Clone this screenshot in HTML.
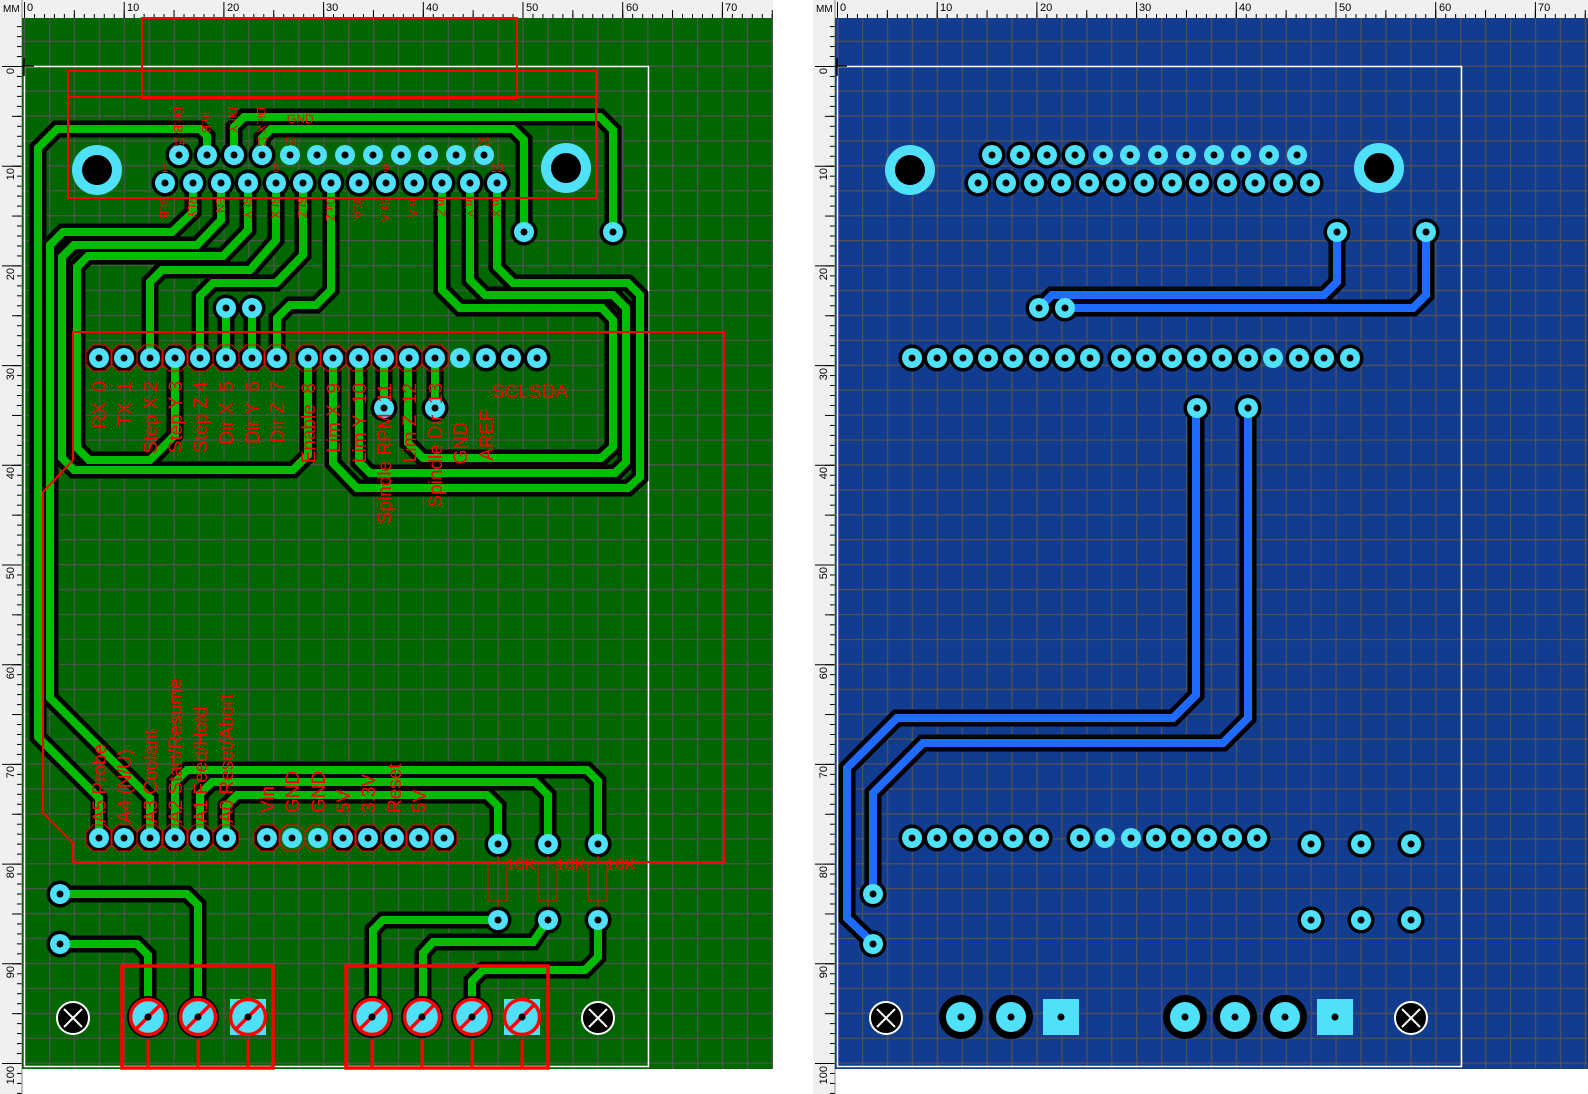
<!DOCTYPE html>
<html><head><meta charset="utf-8"><style>
html,body{margin:0;padding:0;background:#fff;}
svg{display:block;}
text{font-family:"Liberation Sans",sans-serif;}
</style></head><body>
<svg width="1588" height="1094" viewBox="0 0 1588 1094" xmlns="http://www.w3.org/2000/svg" xmlns:xlink="http://www.w3.org/1999/xlink">
<defs>
<pattern id="grid" x="24" y="15.7" width="24.925" height="24.925" patternUnits="userSpaceOnUse"><path d="M0.6,0 V24.925 M0,0.6 H24.925" stroke="#525252" stroke-width="1.3" fill="none"/></pattern>
<pattern id="tx1" x="24" y="0" width="9.97" height="18" patternUnits="userSpaceOnUse"><line x1="0.5" y1="14" x2="0.5" y2="18" stroke="#000"/></pattern>
<pattern id="tx5" x="24" y="0" width="49.85" height="18" patternUnits="userSpaceOnUse"><line x1="0.5" y1="10" x2="0.5" y2="18" stroke="#000"/></pattern>
<pattern id="ty1" x="0" y="66" width="22" height="9.97" patternUnits="userSpaceOnUse"><line x1="17" y1="0.5" x2="22" y2="0.5" stroke="#000"/></pattern>
<pattern id="ty5" x="0" y="66" width="22" height="49.85" patternUnits="userSpaceOnUse"><line x1="12" y1="0.5" x2="22" y2="0.5" stroke="#000"/></pattern>
<g id="rulers">
<rect x="0" y="0" width="775" height="18" fill="#f0f0f0"/>
<rect x="0" y="0" width="22" height="1094" fill="#f0f0f0"/>
<rect x="22" y="0" width="753" height="18" fill="url(#tx1)"/>
<rect x="22" y="0" width="753" height="18" fill="url(#tx5)"/>
<rect x="0" y="18" width="22" height="1076" fill="url(#ty1)"/>
<rect x="0" y="18" width="22" height="1076" fill="url(#ty5)"/>
<path d="M24.5,2V18 M124.2,2V18 M223.9,2V18 M323.6,2V18 M423.3,2V18 M523,2V18 M622.7,2V18 M722.4,2V18 M2,66.5H22 M2,166.2H22 M2,265.9H22 M2,365.6H22 M2,465.3H22 M2,565H22 M2,664.7H22 M2,764.4H22 M2,864.1H22 M2,963.8H22 M2,1063.5H22" stroke="#000" fill="none"/>
<line x1="22" y1="0" x2="22" y2="1094" stroke="#888"/>
</g>
<g id="rings" fill="#000">
<circle cx="179" cy="155" r="13.5"/><circle cx="207" cy="155" r="13.5"/><circle cx="234" cy="155" r="13.5"/><circle cx="262" cy="155" r="13.5"/>
<circle cx="165" cy="183" r="13.5"/><circle cx="193" cy="183" r="13.5"/><circle cx="221" cy="183" r="13.5"/><circle cx="248" cy="183" r="13.5"/><circle cx="276" cy="183" r="13.5"/><circle cx="303" cy="183" r="13.5"/><circle cx="331" cy="183" r="13.5"/><circle cx="359" cy="183" r="13.5"/><circle cx="386" cy="183" r="13.5"/><circle cx="414" cy="183" r="13.5"/><circle cx="442" cy="183" r="13.5"/><circle cx="470" cy="183" r="13.5"/><circle cx="497" cy="183" r="13.5"/>
<circle cx="524" cy="232" r="13.5"/><circle cx="613" cy="232" r="13.5"/><circle cx="226" cy="308" r="13.5"/><circle cx="252" cy="308" r="13.5"/>
<circle cx="99" cy="358" r="13.5"/><circle cx="124" cy="358" r="13.5"/><circle cx="150" cy="358" r="13.5"/><circle cx="175" cy="358" r="13.5"/><circle cx="200" cy="358" r="13.5"/><circle cx="226" cy="358" r="13.5"/><circle cx="252" cy="358" r="13.5"/><circle cx="277" cy="358" r="13.5"/>
<circle cx="308" cy="358" r="13.5"/><circle cx="333" cy="358" r="13.5"/><circle cx="359" cy="358" r="13.5"/><circle cx="384" cy="358" r="13.5"/><circle cx="409" cy="358" r="13.5"/><circle cx="435" cy="358" r="13.5"/><circle cx="486" cy="358" r="13.5"/><circle cx="511" cy="358" r="13.5"/><circle cx="537" cy="358" r="13.5"/>
<circle cx="384" cy="408" r="13.5"/><circle cx="435" cy="408" r="13.5"/>
<circle cx="99" cy="838" r="13.5"/><circle cx="124" cy="838" r="13.5"/><circle cx="150" cy="838" r="13.5"/><circle cx="175" cy="838" r="13.5"/><circle cx="200" cy="838" r="13.5"/><circle cx="226" cy="838" r="13.5"/><circle cx="267" cy="838" r="13.5"/><circle cx="343" cy="838" r="13.5"/><circle cx="368" cy="838" r="13.5"/><circle cx="394" cy="838" r="13.5"/><circle cx="419" cy="838" r="13.5"/><circle cx="444" cy="838" r="13.5"/>
<circle cx="498" cy="844" r="13.5"/><circle cx="548" cy="844" r="13.5"/><circle cx="598" cy="844" r="13.5"/><circle cx="498" cy="920" r="13.5"/><circle cx="548" cy="920" r="13.5"/><circle cx="598" cy="920" r="13.5"/>
<circle cx="60" cy="894" r="13.5"/><circle cx="60" cy="944" r="13.5"/>
</g>
<g id="cores">
<g fill="#4fe0fa">
<circle cx="179" cy="155" r="10"/><circle cx="207" cy="155" r="10"/><circle cx="234" cy="155" r="10"/><circle cx="262" cy="155" r="10"/><circle cx="290" cy="155" r="10"/><circle cx="317" cy="155" r="10"/><circle cx="345" cy="155" r="10"/><circle cx="373" cy="155" r="10"/><circle cx="401" cy="155" r="10"/><circle cx="428" cy="155" r="10"/><circle cx="456" cy="155" r="10"/><circle cx="484" cy="155" r="10"/>
<circle cx="165" cy="183" r="10"/><circle cx="193" cy="183" r="10"/><circle cx="221" cy="183" r="10"/><circle cx="248" cy="183" r="10"/><circle cx="276" cy="183" r="10"/><circle cx="303" cy="183" r="10"/><circle cx="331" cy="183" r="10"/><circle cx="359" cy="183" r="10"/><circle cx="386" cy="183" r="10"/><circle cx="414" cy="183" r="10"/><circle cx="442" cy="183" r="10"/><circle cx="470" cy="183" r="10"/><circle cx="497" cy="183" r="10"/>
<circle cx="97" cy="170" r="25"/><circle cx="566" cy="168" r="25"/>
<circle cx="524" cy="232" r="10"/><circle cx="613" cy="232" r="10"/><circle cx="226" cy="308" r="10"/><circle cx="252" cy="308" r="10"/>
<circle cx="99" cy="358" r="10"/><circle cx="124" cy="358" r="10"/><circle cx="150" cy="358" r="10"/><circle cx="175" cy="358" r="10"/><circle cx="200" cy="358" r="10"/><circle cx="226" cy="358" r="10"/><circle cx="252" cy="358" r="10"/><circle cx="277" cy="358" r="10"/>
<circle cx="308" cy="358" r="10"/><circle cx="333" cy="358" r="10"/><circle cx="359" cy="358" r="10"/><circle cx="384" cy="358" r="10"/><circle cx="409" cy="358" r="10"/><circle cx="435" cy="358" r="10"/><circle cx="460" cy="358" r="10"/><circle cx="486" cy="358" r="10"/><circle cx="511" cy="358" r="10"/><circle cx="537" cy="358" r="10"/>
<circle cx="384" cy="408" r="10"/><circle cx="435" cy="408" r="10"/>
<circle cx="99" cy="838" r="10"/><circle cx="124" cy="838" r="10"/><circle cx="150" cy="838" r="10"/><circle cx="175" cy="838" r="10"/><circle cx="200" cy="838" r="10"/><circle cx="226" cy="838" r="10"/><circle cx="267" cy="838" r="10"/><circle cx="292" cy="838" r="10"/><circle cx="318" cy="838" r="10"/><circle cx="343" cy="838" r="10"/><circle cx="368" cy="838" r="10"/><circle cx="394" cy="838" r="10"/><circle cx="419" cy="838" r="10"/><circle cx="444" cy="838" r="10"/>
<circle cx="498" cy="844" r="10"/><circle cx="548" cy="844" r="10"/><circle cx="598" cy="844" r="10"/><circle cx="498" cy="920" r="10"/><circle cx="548" cy="920" r="10"/><circle cx="598" cy="920" r="10"/>
<circle cx="60" cy="894" r="10"/><circle cx="60" cy="944" r="10"/>
</g>
<g fill="#000">
<circle cx="97" cy="170" r="15"/><circle cx="566" cy="168" r="15"/>
<circle cx="179" cy="155" r="3.5"/><circle cx="207" cy="155" r="3.5"/><circle cx="234" cy="155" r="3.5"/><circle cx="262" cy="155" r="3.5"/><circle cx="290" cy="155" r="3.5"/><circle cx="317" cy="155" r="3.5"/><circle cx="345" cy="155" r="3.5"/><circle cx="373" cy="155" r="3.5"/><circle cx="401" cy="155" r="3.5"/><circle cx="428" cy="155" r="3.5"/><circle cx="456" cy="155" r="3.5"/><circle cx="484" cy="155" r="3.5"/>
<circle cx="165" cy="183" r="3.5"/><circle cx="193" cy="183" r="3.5"/><circle cx="221" cy="183" r="3.5"/><circle cx="248" cy="183" r="3.5"/><circle cx="276" cy="183" r="3.5"/><circle cx="303" cy="183" r="3.5"/><circle cx="331" cy="183" r="3.5"/><circle cx="359" cy="183" r="3.5"/><circle cx="386" cy="183" r="3.5"/><circle cx="414" cy="183" r="3.5"/><circle cx="442" cy="183" r="3.5"/><circle cx="470" cy="183" r="3.5"/><circle cx="497" cy="183" r="3.5"/>
<circle cx="524" cy="232" r="3.5"/><circle cx="613" cy="232" r="3.5"/><circle cx="226" cy="308" r="3.5"/><circle cx="252" cy="308" r="3.5"/>
<circle cx="99" cy="358" r="3.5"/><circle cx="124" cy="358" r="3.5"/><circle cx="150" cy="358" r="3.5"/><circle cx="175" cy="358" r="3.5"/><circle cx="200" cy="358" r="3.5"/><circle cx="226" cy="358" r="3.5"/><circle cx="252" cy="358" r="3.5"/><circle cx="277" cy="358" r="3.5"/>
<circle cx="308" cy="358" r="3.5"/><circle cx="333" cy="358" r="3.5"/><circle cx="359" cy="358" r="3.5"/><circle cx="384" cy="358" r="3.5"/><circle cx="409" cy="358" r="3.5"/><circle cx="435" cy="358" r="3.5"/><circle cx="460" cy="358" r="3.5"/><circle cx="486" cy="358" r="3.5"/><circle cx="511" cy="358" r="3.5"/><circle cx="537" cy="358" r="3.5"/>
<circle cx="384" cy="408" r="3.5"/><circle cx="435" cy="408" r="3.5"/>
<circle cx="99" cy="838" r="3.5"/><circle cx="124" cy="838" r="3.5"/><circle cx="150" cy="838" r="3.5"/><circle cx="175" cy="838" r="3.5"/><circle cx="200" cy="838" r="3.5"/><circle cx="226" cy="838" r="3.5"/><circle cx="267" cy="838" r="3.5"/><circle cx="292" cy="838" r="3.5"/><circle cx="318" cy="838" r="3.5"/><circle cx="343" cy="838" r="3.5"/><circle cx="368" cy="838" r="3.5"/><circle cx="394" cy="838" r="3.5"/><circle cx="419" cy="838" r="3.5"/><circle cx="444" cy="838" r="3.5"/>
<circle cx="498" cy="844" r="3.5"/><circle cx="548" cy="844" r="3.5"/><circle cx="598" cy="844" r="3.5"/><circle cx="498" cy="920" r="3.5"/><circle cx="548" cy="920" r="3.5"/><circle cx="598" cy="920" r="3.5"/>
<circle cx="60" cy="894" r="3.5"/><circle cx="60" cy="944" r="3.5"/>
</g>
</g>
<g id="trL" fill="none" stroke-linejoin="miter">
<path d="M207,155 V136 L200,129 H57 L38,148 V737 L99,798 V838"/>
<path d="M193,183 V212 L172,232 H63 L50,245 V698 L150,798 V838"/>
<path d="M221,183 V220 L197,245 H74 L62,257 V458 L74,470 H293 L308,455 V358"/>
<path d="M248,183 V230 L223,256 H88 L77,267 V448 L89,460 H150 L175,435 V358"/>
<path d="M276,183 V240 L250,270 H162 L150,282 V358"/>
<path d="M303,183 V255 L276,283 H213 L200,296 V358"/>
<path d="M331,183 V290 L316,305 H290 L277,318 V358"/>
<path d="M226,308 V358 M252,308 V358 M384,408 V358 M435,408 V358"/>
<path d="M234,155 V127 L244,117 H600 L613,130 V232"/>
<path d="M262,155 V138 L271,129 H513 L524,140 V232"/>
<path d="M442,183 V290 L460,308 H602 L613,320 V447 L601,458 H423 L408,443 V358"/>
<path d="M470,183 V280 L485,295 H613 L626,308 V462 L615,473 H370 L359,462 V358"/>
<path d="M497,183 V267 L513,283 H628 L640,295 V477 L628,488 H357 L333,463 V358"/>
<path d="M175,838 V782 L187,770 H587 L598,781 V844"/>
<path d="M200,838 V794 L212,782 H535 L548,795 V844"/>
<path d="M226,838 V806 L237,795 H487 L498,806 V844"/>
<path d="M60,894 H187 L198,905 V1017"/>
<path d="M60,944 H137 L148,955 V1017"/>
<path d="M498,920 H383 L373,930 V1017"/>
<path d="M548,920 L533,942 H433 L423,953 V1017"/>
<path d="M598,920 V957 L585,970 H483 L472,981 V1017"/>
</g>
<g id="trR" fill="none">
<path d="M1337,232 V282 L1324,295 H1052 L1039,308"/>
<path d="M1426,232 V295 L1413,308 H1065"/>
<path d="M873,943 L847,918 V768 L897,718 H1173 L1196,695 V408"/>
<path d="M873,893 V793 L923,743 H1223 L1248,718 V408"/>
</g>
</defs>

<!-- LEFT PANEL -->
<use xlink:href="#rulers"/>
<rect x="22" y="18" width="751" height="1051" fill="#006600"/>
<rect x="22" y="18" width="751" height="1051" fill="url(#grid)"/>
<rect x="24.5" y="66.5" width="624" height="1000" fill="none" stroke="#fff" stroke-width="1.5"/>
<use xlink:href="#trL" stroke="#000" stroke-width="17"/>
<use xlink:href="#rings"/>
<use xlink:href="#trL" stroke="#00bb00" stroke-width="8"/>
<use xlink:href="#cores"/>
<g fill="none" stroke="#f00" stroke-width="1">
<path d="M86,352 L93,345 H105 L112,352 V364 L105,371 H93 L86,364Z M111,352 L118,345 H130 L137,352 V364 L130,371 H118 L111,364Z M137,352 L144,345 H156 L163,352 V364 L156,371 H144 L137,364Z M162,352 L169,345 H181 L188,352 V364 L181,371 H169 L162,364Z M187,352 L194,345 H206 L213,352 V364 L206,371 H194 L187,364Z M213,352 L220,345 H232 L239,352 V364 L232,371 H220 L213,364Z M239,352 L246,345 H258 L265,352 V364 L258,371 H246 L239,364Z M264,352 L271,345 H283 L290,352 V364 L283,371 H271 L264,364Z"/>
<path d="M295,352 L302,345 H314 L321,352 V364 L314,371 H302 L295,364Z M320,352 L327,345 H339 L346,352 V364 L339,371 H327 L320,364Z M346,352 L353,345 H365 L372,352 V364 L365,371 H353 L346,364Z M371,352 L378,345 H390 L397,352 V364 L390,371 H378 L371,364Z M396,352 L403,345 H415 L422,352 V364 L415,371 H403 L396,364Z M422,352 L429,345 H441 L448,352 V364 L441,371 H429 L422,364Z"/>
<path d="M86,832 L93,825 H105 L112,832 V844 L105,851 H93 L86,844Z M111,832 L118,825 H130 L137,832 V844 L130,851 H118 L111,844Z M137,832 L144,825 H156 L163,832 V844 L156,851 H144 L137,844Z M162,832 L169,825 H181 L188,832 V844 L181,851 H169 L162,844Z M187,832 L194,825 H206 L213,832 V844 L206,851 H194 L187,844Z M213,832 L220,825 H232 L239,832 V844 L232,851 H220 L213,844Z"/>
<path d="M254,832 L261,825 H273 L280,832 V844 L273,851 H261 L254,844Z M279,832 L286,825 H298 L305,832 V844 L298,851 H286 L279,844Z M305,832 L312,825 H324 L331,832 V844 L324,851 H312 L305,844Z M330,832 L337,825 H349 L356,832 V844 L349,851 H337 L330,844Z M355,832 L362,825 H374 L381,832 V844 L374,851 H362 L355,844Z M381,832 L388,825 H400 L407,832 V844 L400,851 H388 L381,844Z M406,832 L413,825 H425 L432,832 V844 L425,851 H413 L406,844Z M431,832 L438,825 H450 L457,832 V844 L450,851 H438 L431,844Z"/>
<rect x="488" y="863" width="19" height="38"/><rect x="538" y="863" width="19" height="38"/><rect x="588" y="863" width="19" height="38"/>
<path d="M498,856V863 M498,901V908 M548,856V863 M548,901V908 M598,856V863 M598,901V908"/>
</g>
<g fill="none" stroke="#f00" stroke-width="2">
<rect x="142" y="18" width="375" height="80"/>
<rect x="68" y="71" width="528" height="127"/>
<line x1="68" y1="97" x2="596" y2="97"/>
<path d="M73,460 V332 H724 V862 H73 V843 L43,813 V492 L73,460"/>
</g>
<g>
<circle cx="148" cy="1017" r="21" fill="#000"/><circle cx="198" cy="1017" r="21" fill="#000"/>
<circle cx="372" cy="1017" r="21" fill="#000"/><circle cx="422" cy="1017" r="21" fill="#000"/><circle cx="472" cy="1017" r="21" fill="#000"/>
<g fill="#4fe0fa"><circle cx="148" cy="1017" r="18"/><circle cx="198" cy="1017" r="18"/><rect x="230" y="999" width="36" height="36"/>
<circle cx="372" cy="1017" r="18"/><circle cx="422" cy="1017" r="18"/><circle cx="472" cy="1017" r="18"/><rect x="504" y="999" width="36" height="36"/></g>
<g fill="none" stroke="#f00" stroke-width="3.5">
<circle cx="148" cy="1017" r="17.5"/><circle cx="198" cy="1017" r="17.5"/><circle cx="248" cy="1017" r="17.5"/>
<circle cx="372" cy="1017" r="17.5"/><circle cx="422" cy="1017" r="17.5"/><circle cx="472" cy="1017" r="17.5"/><circle cx="522" cy="1017" r="17.5"/>
<path d="M135,1030 L161,1004 M185,1030 L211,1004 M235,1030 L261,1004 M359,1030 L385,1004 M409,1030 L435,1004 M459,1030 L485,1004 M509,1030 L535,1004"/>
<path d="M148,1040V1068 M198,1040V1068 M248,1040V1068 M372,1040V1068 M422,1040V1068 M472,1040V1068 M522,1040V1068" stroke-width="3"/>
<rect x="122" y="966" width="151" height="102"/>
<rect x="346" y="966" width="202" height="102"/>
</g>
<g fill="#000"><circle cx="148" cy="1017" r="3.5"/><circle cx="198" cy="1017" r="3.5"/><circle cx="248" cy="1017" r="3.5"/><circle cx="372" cy="1017" r="3.5"/><circle cx="422" cy="1017" r="3.5"/><circle cx="472" cy="1017" r="3.5"/><circle cx="522" cy="1017" r="3.5"/></g>
<g stroke="#fff" stroke-width="2"><circle cx="73" cy="1018" r="16" fill="#000"/><circle cx="598" cy="1018" r="16" fill="#000"/>
<path d="M64,1009 L82,1027 M82,1009 L64,1027 M589,1009 L607,1027 M607,1009 L589,1027"/></g>
</g>
<g fill="#f00" font-size="19" text-anchor="end">
<text transform="translate(106,381) rotate(-90)">RX&#160;&#160;0</text>
<text transform="translate(131,381) rotate(-90)">TX&#160;&#160;1</text>
<text transform="translate(157,381) rotate(-90)">Step X 2</text>
<text transform="translate(182,381) rotate(-90)">Step Y 3</text>
<text transform="translate(207,381) rotate(-90)">Step Z 4</text>
<text transform="translate(233,381) rotate(-90)">Dir X&#160;&#160;5</text>
<text transform="translate(259,381) rotate(-90)">Dir Y&#160;&#160;6</text>
<text transform="translate(284,381) rotate(-90)">Dir Z&#160;&#160;7</text>
<text transform="translate(315,383) rotate(-90)">Enable&#160;&#160;8</text>
<text transform="translate(340,383) rotate(-90)">Lim X&#160;&#160;9</text>
<text transform="translate(366,383) rotate(-90)">Lim Y&#160;&#160;10</text>
<text transform="translate(391,383) rotate(-90)">Spindle RPM&#160;&#160;11</text>
<text transform="translate(416,383) rotate(-90)">Lim Z&#160;&#160;12</text>
<text transform="translate(442,383) rotate(-90)">Spindle Dir&#160;&#160;13</text>
<text transform="translate(467,422) rotate(-90)">GND</text>
<text transform="translate(493,410) rotate(-90)">AREF</text>
<text x="568" y="398">SCLSDA</text>
<text x="536" y="870" font-size="17">10K</text>
<text x="586" y="870" font-size="17">10K</text>
<text x="636" y="870" font-size="17">10K</text>
</g>
<g fill="#f00" font-size="19" text-anchor="start">
<text transform="translate(106,823) rotate(-90)">A5 Probe</text>
<text transform="translate(131,823) rotate(-90)">A4 (N/U)</text>
<text transform="translate(157,823) rotate(-90)">A3 Coolant</text>
<text transform="translate(182,823) rotate(-90)">A2 Start/Resume</text>
<text transform="translate(207,823) rotate(-90)">A1 Feed/Hold</text>
<text transform="translate(233,823) rotate(-90)">A0 Reset/Abort</text>
<text transform="translate(274,813) rotate(-90)">Vin</text>
<text transform="translate(299,813) rotate(-90)">GND</text>
<text transform="translate(325,813) rotate(-90)">GND</text>
<text transform="translate(350,813) rotate(-90)">5V</text>
<text transform="translate(375,813) rotate(-90)">3.3V</text>
<text transform="translate(401,813) rotate(-90)">Reset</text>
<text transform="translate(426,813) rotate(-90)">5V</text>
</g>
<g fill="#f00" font-size="12">
<g text-anchor="start">
<text transform="translate(160,196) rotate(90)">St.B</text>
<text transform="translate(188,196) rotate(90)">RLY</text>
<text transform="translate(216,196) rotate(90)">EN</text>
<text transform="translate(243,196) rotate(90)">St.Y</text>
<text transform="translate(271,196) rotate(90)">St.X</text>
<text transform="translate(298,196) rotate(90)">St.Z</text>
<text transform="translate(326,196) rotate(90)">Dir.Z</text>
<text transform="translate(354,196) rotate(90)">St.A</text>
<text transform="translate(381,196) rotate(90)">Dir.A</text>
<text transform="translate(409,196) rotate(90)">In.A</text>
<text transform="translate(437,196) rotate(90)">In.Z</text>
<text transform="translate(465,196) rotate(90)">In.Y</text>
<text transform="translate(492,196) rotate(90)">In.X</text>
</g>
<g text-anchor="end">
<text transform="translate(174,133) rotate(90)">Dir.B</text>
<text transform="translate(202,133) rotate(90)">In.B</text>
<text transform="translate(229,133) rotate(90)">Dir.Y</text>
<text transform="translate(257,133) rotate(90)">Dir.X</text>
</g>
<g text-anchor="middle">
<text x="179" y="146">14</text><text x="262" y="146">17</text><text x="290" y="146">18</text><text x="484" y="146">25</text>
<text x="165" y="172">1</text><text x="276" y="172">5</text><text x="386" y="172">9</text><text x="497" y="172">13</text>
</g>
<text x="287" y="123">GND</text>
</g>
<g font-size="11" fill="#000">
<text x="3" y="12" font-size="10">MM</text>
<text x="27" y="11">0</text><text x="127" y="11">10</text><text x="227" y="11">20</text><text x="326" y="11">30</text><text x="426" y="11">40</text><text x="526" y="11">50</text><text x="626" y="11">60</text><text x="725" y="11">70</text>
<g text-anchor="end">
<text transform="translate(14,68) rotate(-90)">0</text><text transform="translate(14,168) rotate(-90)">10</text><text transform="translate(14,268) rotate(-90)">20</text><text transform="translate(14,368) rotate(-90)">30</text><text transform="translate(14,467) rotate(-90)">40</text><text transform="translate(14,567) rotate(-90)">50</text><text transform="translate(14,667) rotate(-90)">60</text><text transform="translate(14,766) rotate(-90)">70</text><text transform="translate(14,866) rotate(-90)">80</text><text transform="translate(14,966) rotate(-90)">90</text><text transform="translate(14,1066) rotate(-90)">100</text>
</g>
</g>
<path d="M22,66 H34 M24,58 V76" stroke="#000" stroke-width="1.5"/>

<!-- RIGHT PANEL -->
<rect x="773" y="0" width="40" height="1094" fill="#fff"/>
<g transform="translate(813,0)">
<use xlink:href="#rulers"/>
<rect x="22" y="18" width="753" height="1051" fill="#123c90"/>
<rect x="22" y="18" width="753" height="1051" fill="url(#grid)"/>
<rect x="24.5" y="66.5" width="624" height="1000" fill="none" stroke="#fff" stroke-width="1.5"/>
<g font-size="11" fill="#000">
<text x="3" y="12" font-size="10">MM</text>
<text x="27" y="11">0</text><text x="127" y="11">10</text><text x="227" y="11">20</text><text x="326" y="11">30</text><text x="426" y="11">40</text><text x="526" y="11">50</text><text x="626" y="11">60</text><text x="725" y="11">70</text>
<g text-anchor="end">
<text transform="translate(14,68) rotate(-90)">0</text><text transform="translate(14,168) rotate(-90)">10</text><text transform="translate(14,268) rotate(-90)">20</text><text transform="translate(14,368) rotate(-90)">30</text><text transform="translate(14,467) rotate(-90)">40</text><text transform="translate(14,567) rotate(-90)">50</text><text transform="translate(14,667) rotate(-90)">60</text><text transform="translate(14,766) rotate(-90)">70</text><text transform="translate(14,866) rotate(-90)">80</text><text transform="translate(14,966) rotate(-90)">90</text><text transform="translate(14,1066) rotate(-90)">100</text>
</g>
</g>
<path d="M22,66 H34 M24,58 V76" stroke="#000" stroke-width="1.5"/>
</g>
<use xlink:href="#trR" stroke="#000" stroke-width="17"/>
<g transform="translate(813,0)"><use xlink:href="#rings"/></g>
<use xlink:href="#trR" stroke="#1f6bff" stroke-width="8"/>
<g transform="translate(813,0)">
<use xlink:href="#cores"/>
<g fill="#000">
<circle cx="148" cy="1017" r="22"/><circle cx="198" cy="1017" r="22"/><circle cx="372" cy="1017" r="22"/><circle cx="422" cy="1017" r="22"/><circle cx="472" cy="1017" r="22"/>
</g>
<g fill="#4fe0fa">
<circle cx="148" cy="1017" r="15"/><circle cx="198" cy="1017" r="15"/><rect x="230" y="999" width="36" height="36"/>
<circle cx="372" cy="1017" r="15"/><circle cx="422" cy="1017" r="15"/><circle cx="472" cy="1017" r="15"/><rect x="504" y="999" width="36" height="36"/>
</g>
<g fill="#000"><circle cx="148" cy="1017" r="3.5"/><circle cx="198" cy="1017" r="3.5"/><circle cx="248" cy="1017" r="3.5"/><circle cx="372" cy="1017" r="3.5"/><circle cx="422" cy="1017" r="3.5"/><circle cx="472" cy="1017" r="3.5"/><circle cx="522" cy="1017" r="3.5"/></g>
<g stroke="#fff" stroke-width="2"><circle cx="73" cy="1018" r="16" fill="#000"/><circle cx="598" cy="1018" r="16" fill="#000"/>
<path d="M64,1009 L82,1027 M82,1009 L64,1027 M589,1009 L607,1027 M607,1009 L589,1027"/></g>
</g>
</svg>
</body></html>
